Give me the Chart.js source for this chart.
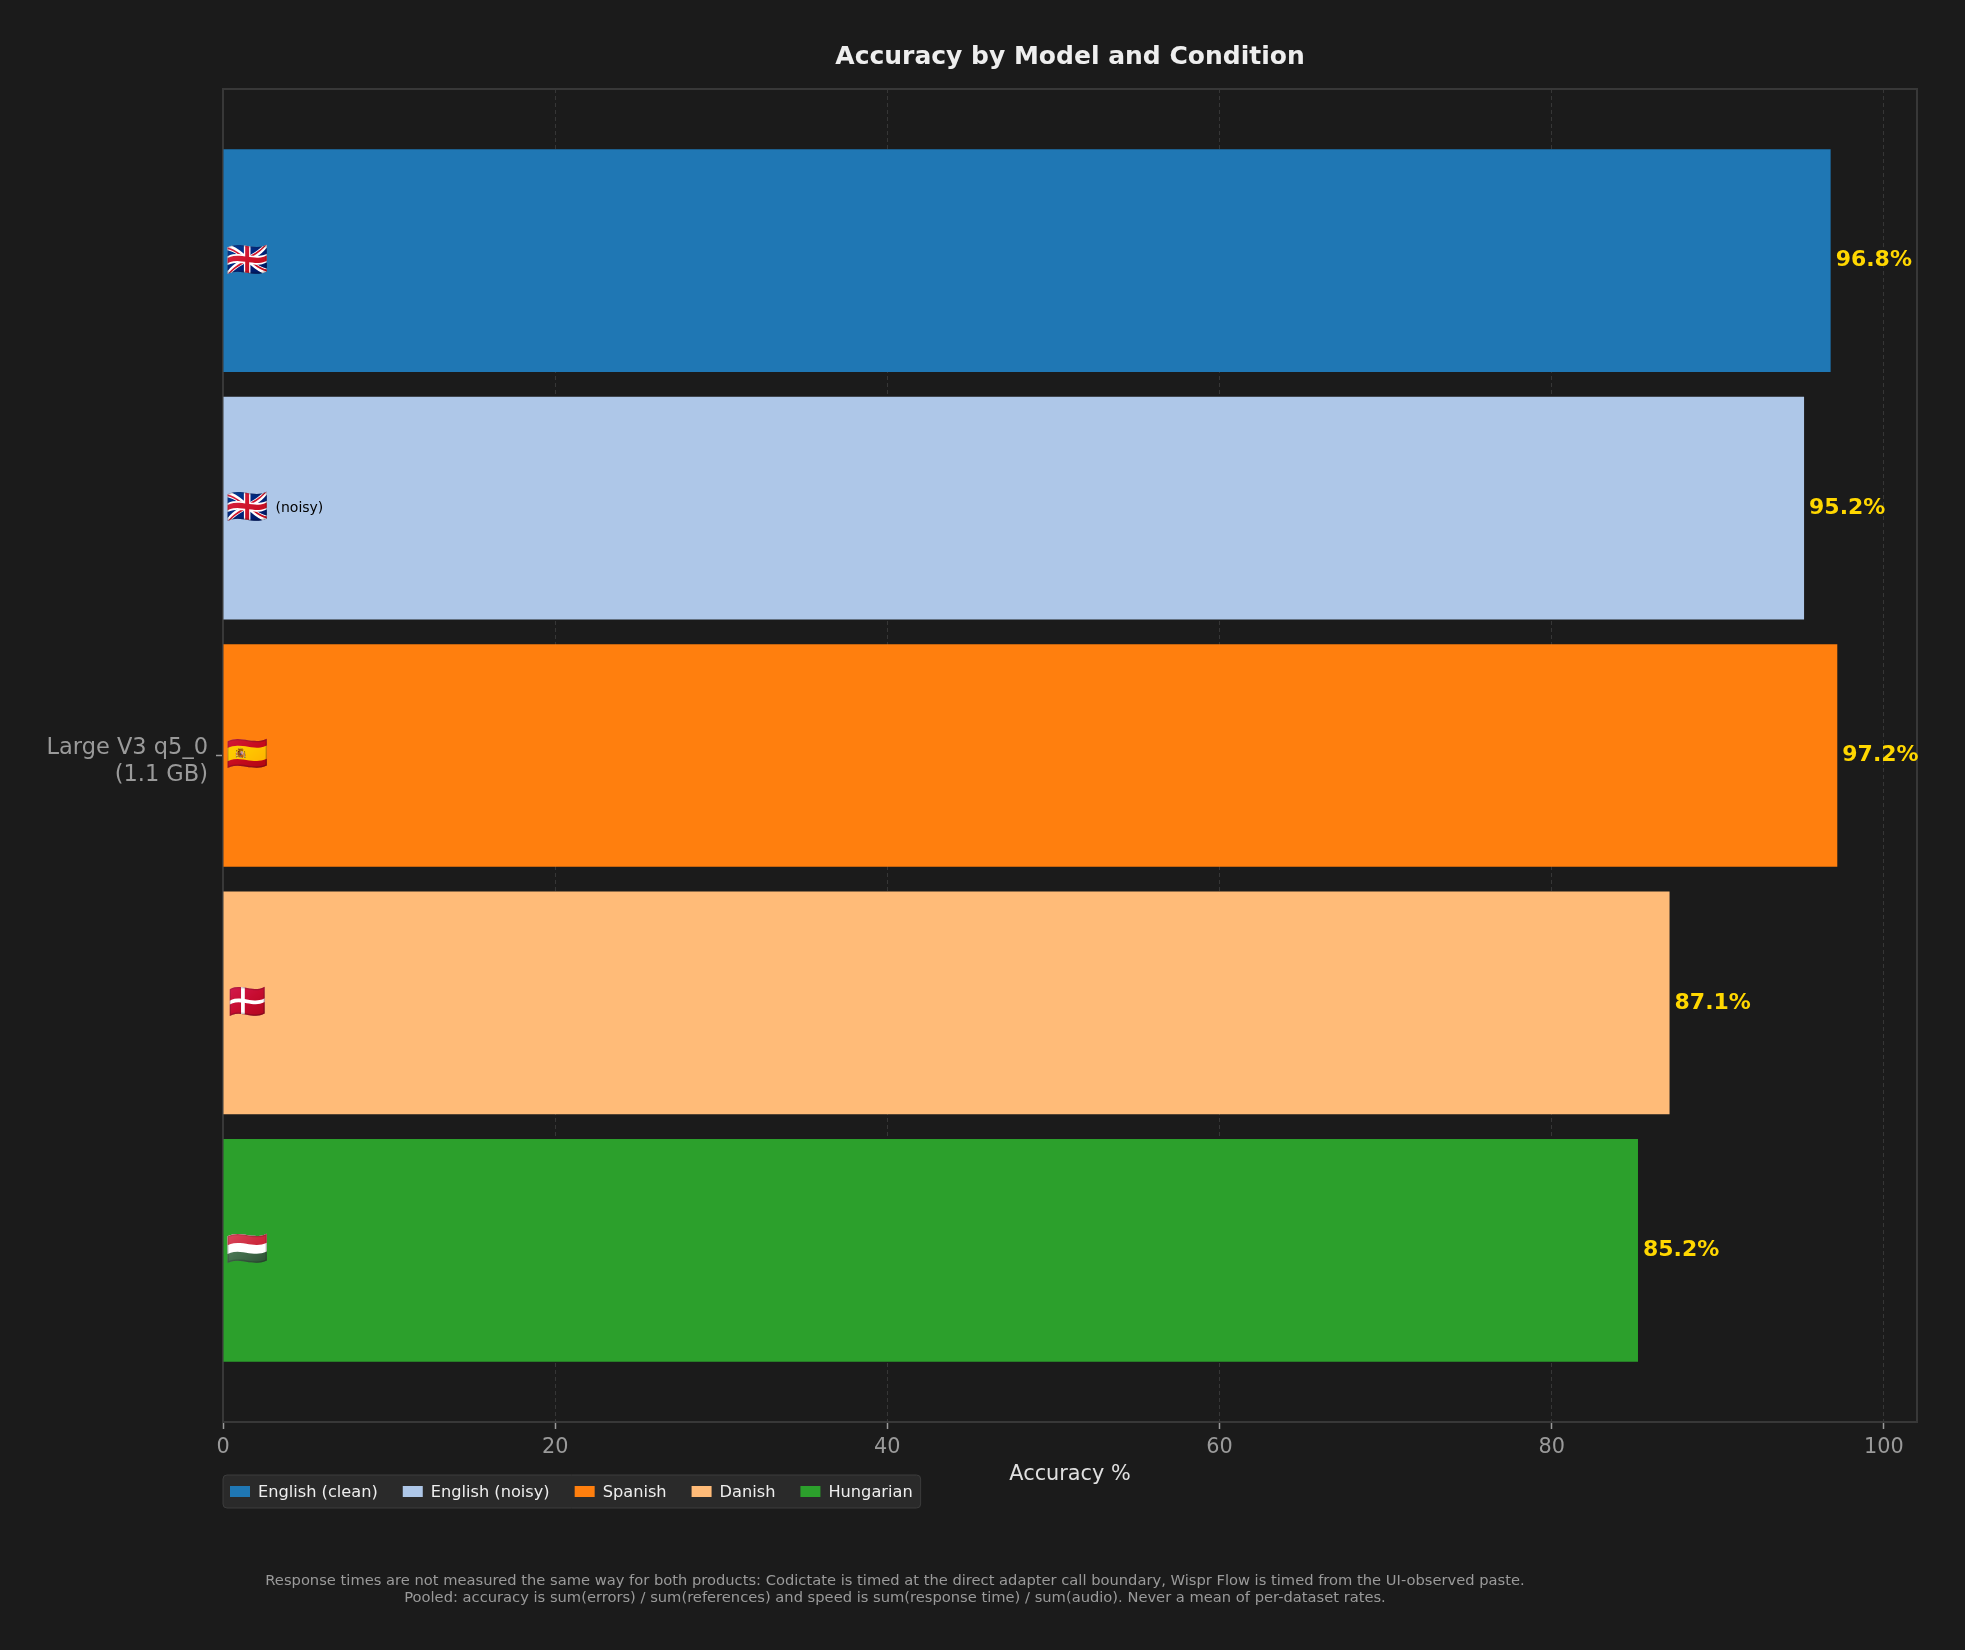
<!DOCTYPE html>
<html lang="en">
<head>
    <meta charset="UTF-8">
    <title>Accuracy by Model and Condition</title>
    <script src="https://cdn.jsdelivr.net/npm/chart.js@4"></script>
    <style>
        html, body { margin: 0; padding: 0; background: #1b1b1b; }
        #wrap { width: 1965px; height: 1650px; }
    </style>
</head>
<body>
<div id="wrap"><canvas id="accChart" width="1965" height="1650"></canvas></div>

<script>
    // data
    const models = [['Large V3 q5_0', '(1.1 GB)']];
    const conditions = ['English (clean)', 'English (noisy)', 'Spanish', 'Danish', 'Hungarian'];
    const accuracy = [96.8, 95.2, 97.2, 87.1, 85.2];
    const barColors = ['#1f77b4', '#aec7e8', '#ff7f0e', '#ffbb78', '#2ca02c'];
    const flagCodes = ['gb', 'gb', 'es', 'dk', 'hu'];
    const flagEmoji = ['🇬🇧', '🇬🇧', '🇪🇸', '🇩🇰', '🇭🇺'];
    const flagNotes = ['', '(noisy)', '', '', ''];
    const xTicks = [0, 20, 40, 60, 80, 100];
    const footnotes = [
        'Response times are not measured the same way for both products: Codictate is timed at the direct adapter call boundary, Wispr Flow is timed from the UI-observed paste.',
        'Pooled: accuracy is sum(errors) / sum(references) and speed is sum(response time) / sum(audio). Never a mean of per-dataset rates.'
    ];

    const FONT = '"DejaVu Sans", "Liberation Sans", sans-serif';
    const EMOJI_FONT = '"Noto Color Emoji", "Apple Color Emoji", "Segoe UI Emoji", sans-serif';
    Chart.defaults.font.family = FONT;

    // is there a colour emoji font? if not, the flags get painted by hand
    function emojiWorks() {
        const c = document.createElement('canvas');
        c.width = 48; c.height = 48;
        const g = c.getContext('2d');
        g.font = '32px ' + EMOJI_FONT;
        g.textBaseline = 'top';
        g.fillStyle = '#000';
        g.fillText('🇩🇰', 2, 2);
        const d = g.getImageData(0, 0, 48, 48).data;
        for (let i = 0; i < d.length; i += 4) {
            if (d[i + 3] > 100 && Math.abs(d[i] - d[i + 1]) > 60) return true;
        }
        return false;
    }
    const haveEmoji = emojiWorks();

    function roundRect(g, x, y, w, h, r) {
        g.beginPath();
        g.moveTo(x + r, y);
        g.lineTo(x + w - r, y);
        g.quadraticCurveTo(x + w, y, x + w, y + r);
        g.lineTo(x + w, y + h - r);
        g.quadraticCurveTo(x + w, y + h, x + w - r, y + h);
        g.lineTo(x + r, y + h);
        g.quadraticCurveTo(x, y + h, x, y + h - r);
        g.lineTo(x, y + r);
        g.quadraticCurveTo(x, y, x + r, y);
        g.closePath();
    }

    // fallback flags if no emoji font is around
    function paintFlag(g, code, x, y, w, h) {
        g.save();
        roundRect(g, x, y, w, h, 3);
        g.clip();
        if (code === 'gb') {
            g.fillStyle = '#253a7c';
            g.fillRect(x, y, w, h);
            g.strokeStyle = '#f4f4f4';
            g.lineWidth = h * 0.2;
            g.beginPath();
            g.moveTo(x, y); g.lineTo(x + w, y + h);
            g.moveTo(x + w, y); g.lineTo(x, y + h);
            g.stroke();
            g.strokeStyle = '#c4303f';
            g.lineWidth = h * 0.07;
            g.stroke();
            g.fillStyle = '#f4f4f4';
            g.fillRect(x, y + h * 0.33, w, h * 0.34);
            g.fillRect(x + w * 0.4, y, w * 0.2, h);
            g.fillStyle = '#c4303f';
            g.fillRect(x, y + h * 0.4, w, h * 0.2);
            g.fillRect(x + w * 0.44, y, w * 0.12, h);
        } else if (code === 'es') {
            g.fillStyle = '#b8323d';
            g.fillRect(x, y, w, h);
            g.fillStyle = '#f0c243';
            g.fillRect(x, y + h * 0.25, w, h * 0.5);
            g.fillStyle = '#a9483a';
            g.fillRect(x + w * 0.22, y + h * 0.36, w * 0.12, h * 0.28);
        } else if (code === 'dk') {
            g.fillStyle = '#b8304a';
            g.fillRect(x, y, w, h);
            g.fillStyle = '#f4f4f4';
            g.fillRect(x + w * 0.27, y, w * 0.11, h);
            g.fillRect(x, y + h * 0.43, w, h * 0.15);
        } else if (code === 'hu') {
            g.fillStyle = '#c4404f';
            g.fillRect(x, y, w, h / 3);
            g.fillStyle = '#f4f4f4';
            g.fillRect(x, y + h / 3, w, h / 3);
            g.fillStyle = '#3e7d50';
            g.fillRect(x, y + 2 * h / 3, w, h / 3 + 1);
        }
        g.restore();
    }

    // axes frame, like the spines of the original
    const framePlugin = {
        id: 'frame',
        beforeDatasetsDraw(chart) {
            const {ctx, chartArea: a} = chart;
            ctx.save();
            ctx.strokeStyle = '#383838';
            ctx.lineWidth = 2;
            ctx.strokeRect(a.left, a.top, a.right - a.left, a.bottom - a.top);
            ctx.restore();
        }
    };

    // value labels at bar ends + flags at bar starts
    const barLabels = {
        id: 'barLabels',
        afterDatasetsDraw(chart) {
            const ctx = chart.ctx;
            ctx.save();
            chart.data.datasets.forEach((ds, i) => {
                const bar = chart.getDatasetMeta(i).data[0];
                if (!bar) return;
                ctx.textBaseline = 'middle';
                ctx.textAlign = 'left';
                ctx.fillStyle = '#ffd700';
                ctx.font = 'bold 22px ' + FONT;
                ctx.fillText(accuracy[i].toFixed(1) + '%', bar.x + 5, bar.y);

                const fx = bar.base + 3;
                if (haveEmoji) {
                    ctx.font = '34px ' + EMOJI_FONT;
                    ctx.fillText(flagEmoji[i], fx, bar.y);
                } else {
                    paintFlag(ctx, flagCodes[i], fx, bar.y - 14, 41, 28);
                }
                if (flagNotes[i]) {
                    ctx.fillStyle = '#000000';
                    ctx.font = '14px ' + FONT;
                    ctx.fillText(flagNotes[i], fx + 49, bar.y);
                }
            });
            ctx.restore();
        }
    };

    // legend box under the axis, left aligned with the plot
    const boxLegend = {
        id: 'boxLegend',
        afterDraw(chart) {
            const {ctx, chartArea: a} = chart;
            const top = 1475, h = 33, cy = top + h / 2;
            ctx.save();
            ctx.font = '16.2px ' + FONT;
            let x = a.left + 7;
            const items = chart.data.datasets.map(ds => {
                const w = ctx.measureText(ds.label).width;
                const it = {x, label: ds.label, color: ds.backgroundColor};
                x += 28 + w + 25;
                return it;
            });
            const right = x - 25 + 8;
            roundRect(ctx, a.left, top, right - a.left, h, 4);
            ctx.fillStyle = '#2a2a2a';
            ctx.fill();
            ctx.strokeStyle = '#3c3c3c';
            ctx.lineWidth = 1;
            ctx.stroke();
            ctx.textBaseline = 'middle';
            ctx.textAlign = 'left';
            items.forEach(it => {
                ctx.fillStyle = it.color;
                ctx.fillRect(it.x, cy - 5.5, 20, 11);
                ctx.fillStyle = '#eeeeee';
                ctx.fillText(it.label, it.x + 28, cy + 1);
            });
            ctx.restore();
        }
    };

    const footnote = {
        id: 'footnote',
        afterDraw(chart) {
            const ctx = chart.ctx;
            ctx.save();
            ctx.font = '14.7px ' + FONT;
            ctx.fillStyle = '#9a9a9a';
            ctx.textAlign = 'center';
            ctx.textBaseline = 'middle';
            footnotes.forEach((t, k) => ctx.fillText(t, 895, 1581 + k * 17.5));
            ctx.restore();
        }
    };

    new Chart(document.getElementById('accChart'), {
        type: 'bar',
        data: {
            labels: models,
            datasets: conditions.map((c, i) => ({
                label: c,
                data: [accuracy[i]],
                backgroundColor: barColors[i],
                borderWidth: 0,
                categoryPercentage: 0.928,
                barPercentage: 0.9
            }))
        },
        options: {
            indexAxis: 'y',
            responsive: false,
            animation: false,
            devicePixelRatio: 1,
            layout: { padding: { top: 0, right: 48, bottom: 163, left: 0 } },
            plugins: {
                legend: { display: false },
                tooltip: { enabled: false },
                title: {
                    display: true,
                    text: 'Accuracy by Model and Condition',
                    color: '#eeeeee',
                    font: { size: 25, weight: 'bold' },
                    fullSize: false,
                    padding: { top: 42, bottom: 17 }
                }
            },
            scales: {
                x: {
                    min: 0,
                    max: 102,
                    afterBuildTicks: s => { s.ticks = xTicks.map(v => ({ value: v })); },
                    afterFit: s => { s.height = 65; },
                    ticks: { color: '#9a9a9a', font: { size: 20.8 }, padding: 6 },
                    grid: {
                        color: '#363636', lineWidth: 1, borderDash: [4, 3],
                        tickColor: '#9a9a9a', tickLength: 7, tickWidth: 1.5, tickBorderDash: []
                    },
                    border: { display: false, dash: [4, 3] },
                    title: {
                        display: true, text: 'Accuracy %', color: '#e0e0e0',
                        font: { size: 20.8 }, padding: { top: 0, bottom: 0 }
                    }
                },
                y: {
                    afterFit: s => { s.width = 223; },
                    ticks: { color: '#9a9a9a', font: { size: 22.5 }, padding: 8, labelOffset: 6 },
                    grid: { offset: false, drawOnChartArea: false, tickColor: '#9a9a9a', tickLength: 7, tickWidth: 1.5 },
                    border: { display: false }
                }
            }
        },
        plugins: [framePlugin, barLabels, boxLegend, footnote]
    });
</script>
</body>
</html>
